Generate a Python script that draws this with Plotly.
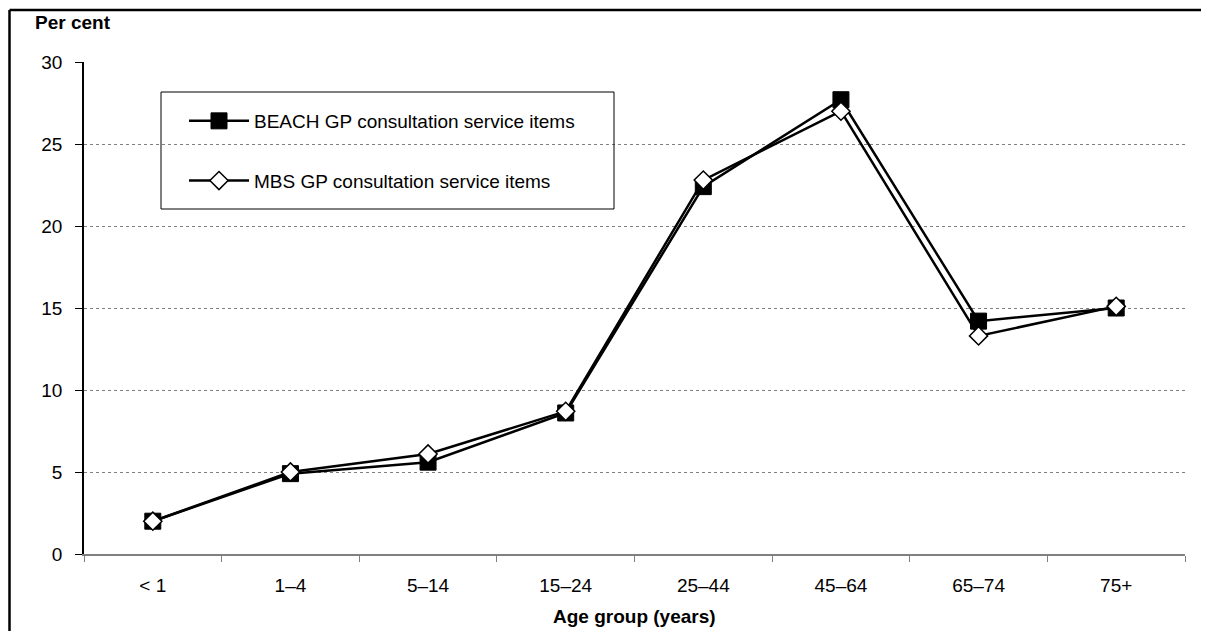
import plotly.graph_objects as go

categories = ["< 1", "1–4", "5–14", "15–24", "25–44", "45–64", "65–74", "75+"]
beach = [2.0, 4.9, 5.6, 8.6, 22.4, 27.7, 14.2, 15.0]
mbs = [2.0, 5.0, 6.1, 8.7, 22.8, 27.0, 13.3, 15.1]
y_ticks = [0, 5, 10, 15, 20, 25, 30]

FONT = "Liberation Sans, Arial, sans-serif"
FS = 19

# plot area in screen pixels (page has an 8px body margin)
PX0, PX1, PY0, PY1 = 84, 1185, 62, 554
PW, PH = PX1 - PX0, PY1 - PY0


def px(x):
    return (x - PX0) / PW


def py(y):
    return 1 - (y - PY0) / PH


fig = go.Figure()
fig.add_trace(go.Scatter(
    x=categories, y=beach, mode="lines+markers",
    name="BEACH GP consultation service items",
    line=dict(color="black", width=2.5),
    marker=dict(symbol="square", size=16, color="black", line=dict(color="black", width=1)),
    legendgroup="a",
))
fig.add_trace(go.Scatter(
    x=categories, y=mbs, mode="lines+markers",
    name="MBS GP consultation service items",
    line=dict(color="black", width=2.5),
    marker=dict(symbol="diamond", size=14, color="white", line=dict(color="black", width=1.5)),
    legendgroup="b",
))

fig.update_layout(
    width=1193, height=623,
    margin=dict(l=PX0 - 8, r=1193 - (PX1 - 8), t=PY0 - 8, b=623 - (PY1 - 8), autoexpand=False),
    paper_bgcolor="white", plot_bgcolor="white",
    font=dict(family=FONT, size=FS, color="black"),
    showlegend=True,
    legend=dict(
        x=px(184), y=py(102), xanchor="left", yanchor="top",
        bgcolor="rgba(0,0,0,0)", borderwidth=0,
        font=dict(family=FONT, size=FS, color="black"),
        tracegroupgap=32, itemwidth=60,
    ),
    xaxis=dict(
        type="category", range=[-0.5, 7.5], automargin=False,
        showline=True, linecolor="#808080", linewidth=1.5,
        ticks="outside", tickson="boundaries", ticklen=6, tickcolor="#808080",
        ticklabelstandoff=13,
        showgrid=False, zeroline=False,
        tickfont=dict(size=FS),
    ),
    yaxis=dict(
        range=[0, 30], tickvals=y_ticks, automargin=False,
        showline=True, linecolor="black", linewidth=1.5,
        ticks="outside", ticklen=7, tickcolor="black",
        ticklabelstandoff=9,
        showgrid=True, gridcolor="#808080", griddash="dot", gridwidth=1,
        zeroline=False, tickfont=dict(size=FS),
    ),
    shapes=[
        # legend frame
        dict(type="rect", xref="paper", yref="paper",
             x0=px(161), x1=px(614), y0=py(209), y1=py(92),
             line=dict(color="black", width=1), fillcolor="rgba(0,0,0,0)", layer="above"),
        # outer frame (left and top)
        dict(type="line", xref="paper", yref="paper",
             x0=px(9.5), x1=px(9.5), y0=py(660), y1=py(10),
             line=dict(color="black", width=2.5)),
        dict(type="line", xref="paper", yref="paper",
             x0=px(9.5), x1=px(1230), y0=py(10), y1=py(10),
             line=dict(color="black", width=2.5)),
    ],
    annotations=[
        dict(text="<b>Per cent</b>", xref="paper", yref="paper",
             x=px(33), y=py(23), xanchor="left", yanchor="middle",
             showarrow=False, font=dict(size=FS)),
        dict(text="<b>Age group (years)</b>", xref="paper", yref="paper",
             x=0.5, y=py(616), xanchor="center", yanchor="middle",
             showarrow=False, font=dict(size=FS)),
    ],
)

fig.write_html("out.html")
